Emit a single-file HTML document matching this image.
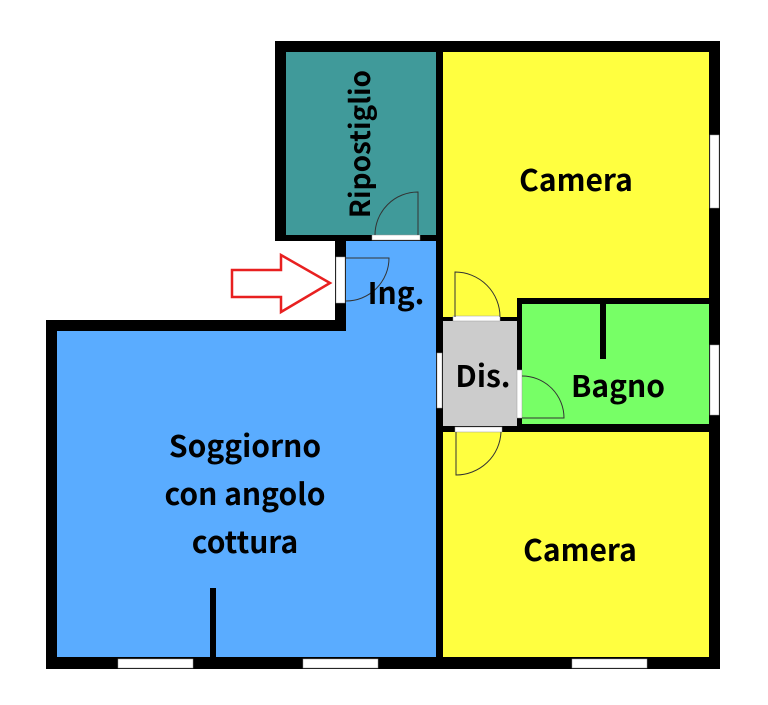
<!DOCTYPE html>
<html><head><style>body{margin:0;background:#fff}svg{display:block}text{font-family:"Noto Sans CJK JP","Liberation Sans",sans-serif;font-weight:700;fill:#000}</style></head><body>
<svg width="768" height="705" viewBox="0 0 768 705">
<rect x="275" y="41" width="445" height="200" fill="#000"/>
<rect x="335" y="235" width="385" height="434" fill="#000"/>
<rect x="46" y="320" width="300" height="349" fill="#000"/>
<rect x="286" y="52" width="150" height="183" fill="#409a9a"/>
<rect x="443" y="52" width="266" height="265" fill="#ffff40"/>
<rect x="346" y="241" width="91" height="90" fill="#5aacff"/>
<rect x="57" y="331" width="380" height="326" fill="#5aacff"/>
<rect x="443" y="321" width="74" height="105" fill="#cccccc"/>
<rect x="522" y="304" width="187" height="120" fill="#77ff66"/>
<rect x="443" y="432" width="266" height="225" fill="#ffff40"/>
<rect x="436" y="41" width="7" height="628" fill="#000"/>
<rect x="443" y="317" width="74" height="4" fill="#000"/>
<rect x="517" y="298" width="5" height="134" fill="#000"/>
<rect x="517" y="298" width="192" height="6" fill="#000"/>
<rect x="443" y="426" width="266" height="6" fill="#000"/>
<rect x="600" y="304" width="6" height="55" fill="#000"/>
<rect x="210" y="588" width="6" height="70" fill="#000"/>
<g fill="#fff" stroke="#999" stroke-width="0.5">
<rect x="372" y="235" width="48" height="5"/>
<rect x="336" y="257" width="9" height="46"/>
<rect x="453" y="316" width="47" height="5"/>
<rect x="437" y="353" width="5" height="55"/>
<rect x="517" y="370" width="5" height="48"/>
<rect x="455" y="427" width="47" height="5"/>
<rect x="710" y="135" width="9" height="73"/>
<rect x="710" y="345" width="9" height="70"/>
<rect x="118" y="659" width="75" height="9"/>
<rect x="303" y="659" width="75" height="9"/>
<rect x="572" y="659" width="75" height="9"/>
</g>
<g fill="none" stroke="#333" stroke-width="1">
<path d="M418 235 V192 A43 43 0 0 0 375 235"/>
<path d="M346 258 H389 A43 43 0 0 1 346 301"/>
<path d="M455 317 V272 A45 45 0 0 1 500 317"/>
<path d="M522 418 H564 A42 42 0 0 0 522 376"/>
<path d="M456 432 V475 A45 45 0 0 0 501 432"/>
</g>
<path d="M232 270 H281 V255 L330 283 L281 312 V297 H232 Z" fill="#fff" stroke="#e82020" stroke-width="2.5"/>
<g font-size="30" text-anchor="middle">
<text x="576" y="191">Camera</text>
<text x="580" y="561">Camera</text>
<text x="618" y="397">Bagno</text>
<text x="483" y="387">Dis.</text>
<text x="396" y="304">Ing.</text>
<text x="0" y="0" font-size="28" transform="translate(370,144) rotate(-90)">Ripostiglio</text>
<text x="245" y="457">Soggiorno</text>
<text x="245" y="505">con angolo</text>
<text x="245" y="553">cottura</text>
</g>
</svg>
</body></html>
